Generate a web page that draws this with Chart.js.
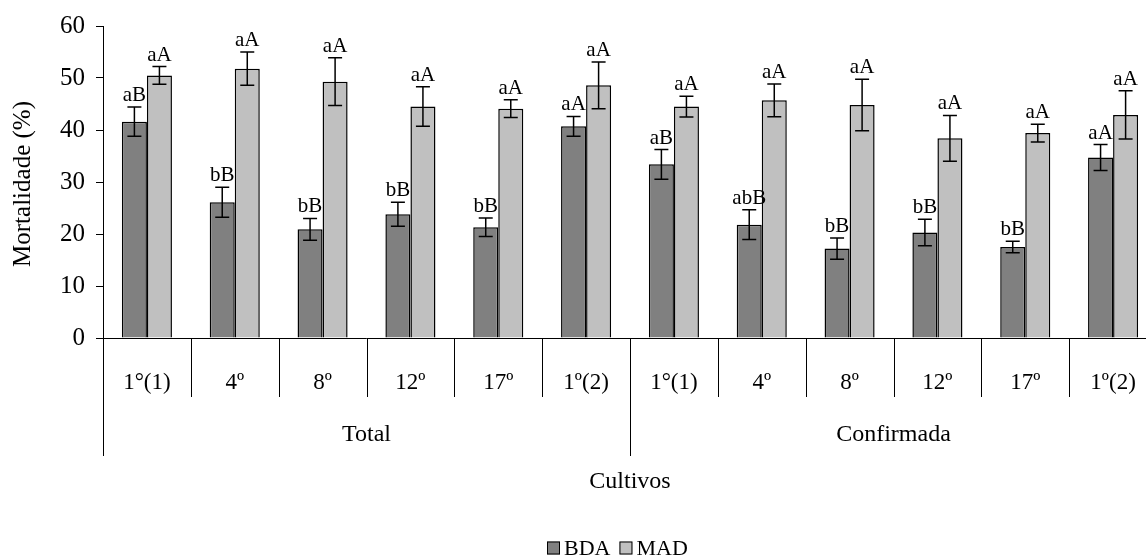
<!DOCTYPE html>
<html>
<head>
<meta charset="utf-8">
<script src="https://cdn.jsdelivr.net/npm/chart.js@4"></script>
<style>
  html, body { margin: 0; padding: 0; overflow: hidden; background: #fff; }
  #box { width: 1157px; height: 558px; }
</style>
</head>
<body>
<div id="box"><canvas id="myChart"></canvas></div>
<script>
// dados
var grupos = ['Total', 'Confirmada'];
var cultivos = ['1°(1)', '4º', '8º', '12º', '17º', '1º(2)'];
var bda = [41.6, 26.1, 20.9, 23.8, 21.3, 40.7, 33.4, 21.8, 17.2, 20.3, 17.5, 34.7];
var bdaErro = [2.8, 2.9, 2.1, 2.3, 1.8, 1.9, 2.85, 2.85, 2.05, 2.55, 1.1, 2.5];
var bdaLetras = ['aB', 'bB', 'bB', 'bB', 'bB', 'aA', 'aB', 'abB', 'bB', 'bB', 'bB', 'aA'];
var mad = [50.5, 51.8, 49.3, 44.5, 44.1, 48.6, 44.5, 45.7, 44.8, 38.4, 39.4, 42.9];
var madErro = [1.7, 3.2, 4.6, 3.8, 1.7, 4.5, 2.0, 3.15, 4.95, 4.4, 1.7, 4.65];
var madLetras = ['aA', 'aA', 'aA', 'aA', 'aA', 'aA', 'aA', 'aA', 'aA', 'aA', 'aA', 'aA'];
var yMin = 0, yMax = 60, yPasso = 10;

var fonte = '"Liberation Serif", "Times New Roman", serif';
var labels = [];
grupos.forEach(function () { cultivos.forEach(function (c) { labels.push(c); }); });

var erros = [bdaErro, madErro];
var letras = [bdaLetras, madLetras];

// barras de erro, letras, eixo x em dois niveis, titulos e legenda
var extras = {
	id: 'extras',
	afterDatasetsDraw: function (chart) {
		var ctx = chart.ctx;
		var xs = chart.scales.x;
		var ys = chart.scales.y;
		var area = chart.chartArea;
		ctx.save();

		chart.data.datasets.forEach(function (ds, d) {
			var meta = chart.getDatasetMeta(d);
			meta.data.forEach(function (bar, i) {
				var v = ds.data[i];
				var top = ys.getPixelForValue(v + erros[d][i]);
				var bot = ys.getPixelForValue(v - erros[d][i]);
				ctx.strokeStyle = '#000';
				ctx.lineWidth = 1.5;
				ctx.beginPath();
				ctx.moveTo(bar.x, top); ctx.lineTo(bar.x, bot);
				ctx.moveTo(bar.x - 7, top); ctx.lineTo(bar.x + 7, top);
				ctx.moveTo(bar.x - 7, bot); ctx.lineTo(bar.x + 7, bot);
				ctx.stroke();

				ctx.fillStyle = '#000';
				ctx.font = '21px ' + fonte;
				ctx.textAlign = 'center';
				ctx.textBaseline = 'alphabetic';
				ctx.fillText(letras[d][i], bar.x, top - 6);
			});
		});

		// divisorias e rotulos do eixo x
		var passo = xs.getPixelForValue(1) - xs.getPixelForValue(0);
		var n = labels.length;
		ctx.strokeStyle = '#000';
		ctx.lineWidth = 1;
		for (var k = 0; k <= n; k++) {
			var px = Math.round(xs.getPixelForValue(k) - passo / 2) + 0.5;
			var fim = (k % cultivos.length === 0) ? 456 : 397;
			ctx.beginPath();
			ctx.moveTo(px, area.bottom);
			ctx.lineTo(px, fim);
			ctx.stroke();
		}
		ctx.fillStyle = '#000';
		ctx.textAlign = 'center';
		ctx.textBaseline = 'middle';
		ctx.font = '23px ' + fonte;
		labels.forEach(function (l, i) {
			ctx.fillText(l, xs.getPixelForValue(i), 383);
		});
		ctx.font = '24px ' + fonte;
		grupos.forEach(function (g, j) {
			var a = xs.getPixelForValue(j * cultivos.length);
			var b = xs.getPixelForValue((j + 1) * cultivos.length - 1);
			ctx.fillText(g, (a + b) / 2, 435);
		});
		ctx.fillText('Cultivos', (area.left + area.right) / 2, 482);

		// titulo do eixo y
		ctx.save();
		ctx.translate(23, (area.top + area.bottom) / 2 + 2);
		ctx.rotate(-Math.PI / 2);
		ctx.font = '25px ' + fonte;
		ctx.fillText('Mortalidade (%)', 0, 0);
		ctx.restore();

		// legenda
		var lx = 547, ly = 548;
		ctx.font = '22px ' + fonte;
		ctx.textAlign = 'left';
		chart.data.datasets.forEach(function (ds) {
			ctx.fillStyle = ds.backgroundColor;
			ctx.fillRect(lx, ly - 6.5, 13, 13);
			ctx.strokeStyle = '#000';
			ctx.lineWidth = 1;
			ctx.strokeRect(lx + 0.5, ly - 6, 12, 12);
			ctx.fillStyle = '#000';
			ctx.fillText(ds.label, lx + 17, ly + 1);
			lx += 17 + ctx.measureText(ds.label).width + 9;
		});
		ctx.restore();
	}
};

var ctx = document.getElementById('myChart').getContext('2d');
var chart = new Chart(ctx, {
	type: 'bar',
	data: {
		labels: labels,
		datasets: [{
			label: 'BDA',
			data: bda,
			backgroundColor: '#808080',
			borderColor: '#000',
			borderWidth: 1.5,
			categoryPercentage: 0.57,
			barPercentage: 1
		}, {
			label: 'MAD',
			data: mad,
			backgroundColor: '#c0c0c0',
			borderColor: '#000',
			borderWidth: 1.5,
			categoryPercentage: 0.57,
			barPercentage: 1
		}]
	},
	options: {
		responsive: true,
		maintainAspectRatio: false,
		animation: false,
		layout: { padding: { top: 26, left: 0, right: 0, bottom: 0 } },
		plugins: { legend: { display: false }, tooltip: { enabled: false } },
		scales: {
			x: {
				ticks: { display: false },
				grid: { display: false },
				border: { display: true, color: '#000', width: 1 },
				afterFit: function (s) { s.height = 220; }
			},
			y: {
				min: yMin,
				max: yMax,
				ticks: { stepSize: yPasso, color: '#000', padding: 11, font: { family: fonte, size: 25 } },
				grid: { drawOnChartArea: false, drawTicks: true, tickLength: 7, color: '#000' },
				border: { display: true, color: '#000', width: 1 },
				afterFit: function (s) { s.width = 103; }
			}
		}
	},
	plugins: [extras]
});
</script>
</body>
</html>
